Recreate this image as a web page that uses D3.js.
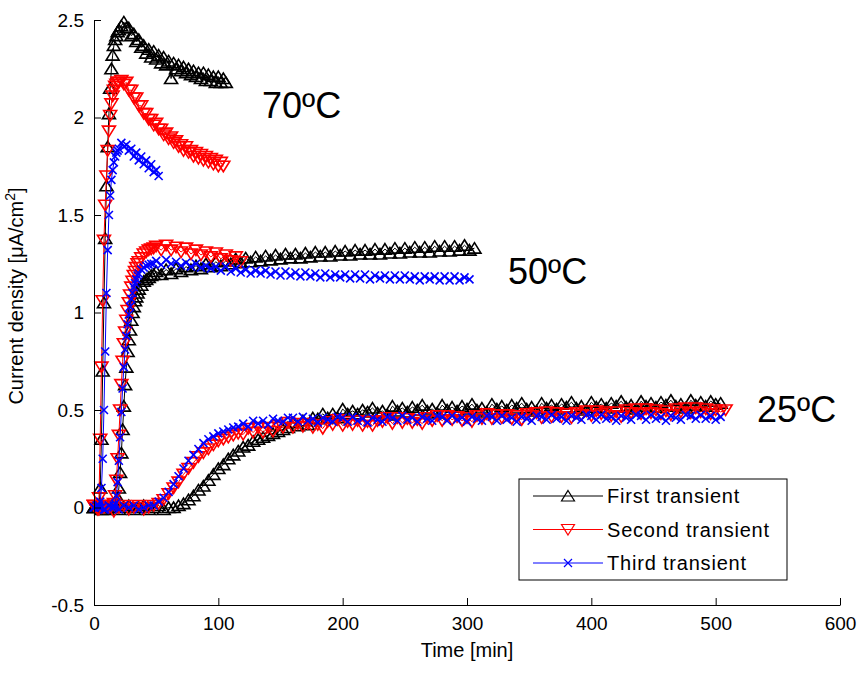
<!DOCTYPE html>
<html>
<head>
<meta charset="utf-8">
<script src="https://cdnjs.cloudflare.com/ajax/libs/d3/7.8.5/d3.min.js"></script>
<style>
  html, body { margin: 0; padding: 0; background: #fff; }
  svg { display: block; font-family: "Liberation Sans", Arial, sans-serif; }
</style>
</head>
<body>
<div id="chart"></div>
<script>

// tick labels
var xTicks = [0, 100, 200, 300, 400, 500, 600];
var yTicks = [-0.5, 0, 0.5, 1, 1.5, 2, 2.5];

var transients = ['First transient', 'Second transient', 'Third transient'];
var temperatures = ['70ºC', '50ºC', '25ºC'];

// 70 C, time in min
var time70 = [0, 2, 4, 5, 6, 7, 8, 9, 10, 11, 12, 13, 14, 15, 16, 17, 18, 19, 20,
  22, 24, 26, 28, 30, 32, 34, 36, 38, 40, 42, 44, 46, 48, 50, 52, 54, 56, 58, 60,
  62, 64, 66, 68, 70, 72, 74, 76, 78, 80, 82, 84, 86, 88, 90, 92, 94, 96, 98, 100,
  102, 104, 106];
var first70 = [0.00, 0.01, 0.01, 0.10, 0.35, 0.70, 1.05, 1.38, 1.65, 1.85, 2.02, 2.15, 2.25, 2.32, 2.37, 2.40, 2.42, 2.44, 2.45,
  2.47, 2.49, 2.46, 2.46, 2.42, 2.43, 2.39, 2.40, 2.36, 2.37,
  2.33, 2.35, 2.31, 2.34, 2.30, 2.32, 2.28, 2.31, 2.27, 2.29,
  2.20, 2.28, 2.25, 2.27, 2.24, 2.26, 2.23, 2.25, 2.22, 2.24,
  2.21, 2.23, 2.20, 2.23, 2.19, 2.22, 2.19, 2.21, 2.18, 2.21,
  2.18, 2.20, 2.18];
var second70 = [0.01, 0.00, 0.05, 0.35, 0.72, 1.06, 1.37, 1.55, 1.70, 1.83, 1.93, 2.01, 2.07, 2.11, 2.14, 2.16, 2.17, 2.18, 2.18,
  2.19, 2.17, 2.18, 2.14, 2.14, 2.10, 2.10, 2.06, 2.06, 2.02,
  2.02, 1.99, 1.99, 1.96, 1.97, 1.94, 1.94, 1.91, 1.92, 1.89,
  1.90, 1.87, 1.88, 1.85, 1.86, 1.83, 1.85, 1.82, 1.83, 1.80,
  1.82, 1.79, 1.81, 1.78, 1.80, 1.77, 1.79, 1.76, 1.78, 1.75,
  1.77, 1.75];
var third70 = [0.00, 0.01, 0.00, 0.03, 0.10, 0.25, 0.50, 0.80, 1.10, 1.32, 1.50, 1.60, 1.68, 1.73, 1.77, 1.80, 1.82, 1.83, 1.84,
  1.87, 1.85, 1.86, 1.83, 1.84, 1.80, 1.82, 1.78, 1.80, 1.76,
  1.78, 1.74, 1.76, 1.72, 1.73, 1.70];

// 50 C
var time50 = [0, 3, 6, 9, 12, 14, 16, 17, 18, 19, 20, 21, 22, 23, 24, 25, 26, 27, 28, 29, 30,
  31, 32, 33, 34, 35, 36, 38, 40, 42, 44, 46, 48,
  50, 54, 58, 62, 66, 70, 74, 78, 82, 86, 90, 94, 98, 102, 106, 110, 114, 118, 122, 126,
  130, 134, 138, 142, 146, 150, 154, 158, 162, 166, 170, 174, 178, 182, 186, 190, 194, 198,
  202, 206, 210, 214, 218, 222, 226, 230, 234, 238, 242, 246, 250, 254, 258, 262, 266, 270,
  274, 278, 282, 286, 290, 294, 298, 302, 306];
var first50 = [0.00, 0.01, -0.01, 0.00, 0.01, 0.00, 0.01, 0.01, 0.02, 0.05, 0.10, 0.18, 0.28, 0.40, 0.52, 0.63, 0.72,
  0.80, 0.86, 0.91, 0.96, 1.00, 1.03, 1.06, 1.08, 1.10, 1.12, 1.14, 1.16, 1.17, 1.18, 1.19, 1.195,
  1.21, 1.195, 1.22, 1.20, 1.225, 1.21, 1.235, 1.22, 1.24, 1.225,
  1.25, 1.235, 1.26, 1.24, 1.265, 1.25, 1.275, 1.255, 1.28, 1.26,
  1.285, 1.265, 1.29, 1.27, 1.295, 1.275, 1.30, 1.28, 1.30, 1.28,
  1.305, 1.285, 1.31, 1.29, 1.31, 1.29, 1.315, 1.295, 1.315, 1.295,
  1.32, 1.30, 1.32, 1.30, 1.325, 1.30, 1.325, 1.305, 1.33, 1.305,
  1.33, 1.31, 1.335, 1.31, 1.335, 1.31, 1.34, 1.315, 1.34, 1.315,
  1.34, 1.32, 1.345, 1.32, 1.33];
var second50 = [0.01, -0.01, 0.00, 0.01, 0.00, 0.01, 0.02, 0.06, 0.14, 0.25, 0.37, 0.50, 0.63, 0.75, 0.84, 0.90, 0.96,
  1.01, 1.05, 1.09, 1.13, 1.16, 1.19, 1.21, 1.23, 1.25, 1.26, 1.28, 1.30, 1.31, 1.32, 1.325, 1.33,
  1.34, 1.32, 1.345, 1.32, 1.335, 1.31, 1.33, 1.30, 1.32, 1.295,
  1.31, 1.285, 1.305, 1.275, 1.295, 1.265, 1.285, 1.26];
var third50 = [0.00, 0.01, 0.00, -0.01, 0.01, 0.00, 0.01, 0.02, 0.06, 0.13, 0.24, 0.36, 0.49, 0.61, 0.72, 0.81, 0.88,
  0.94, 0.99, 1.03, 1.07, 1.10, 1.13, 1.15, 1.17, 1.19, 1.20, 1.22, 1.23, 1.24, 1.245, 1.25, 1.25,
  1.265, 1.245, 1.27, 1.25, 1.26, 1.24, 1.255, 1.235, 1.25, 1.23,
  1.24, 1.225, 1.235, 1.215, 1.235, 1.21, 1.225, 1.205, 1.22, 1.20,
  1.215, 1.20, 1.215, 1.195, 1.21, 1.19, 1.21, 1.19, 1.205, 1.185,
  1.205, 1.185, 1.20, 1.18, 1.20, 1.18, 1.195, 1.18, 1.195, 1.175,
  1.195, 1.175, 1.195, 1.17, 1.19, 1.175, 1.19, 1.17, 1.19, 1.17,
  1.19, 1.17, 1.185, 1.165, 1.185, 1.17, 1.185, 1.165, 1.185, 1.165,
  1.185, 1.165, 1.18, 1.17];

// 25 C
var time25 = [0, 4, 8, 12, 16, 20, 24, 28, 32, 36, 40, 44, 48, 52, 56, 60, 64, 68, 72, 76,
  80, 84, 88, 92, 96, 100, 104, 108, 112, 116, 120, 124, 128, 132, 136, 140, 144, 148, 152, 156,
  160, 164, 168, 172, 176, 180, 184, 188, 192, 196, 200, 204, 208, 212, 216, 220, 224, 228, 232, 236,
  240, 244, 248, 252, 256, 260, 264, 268, 272, 276, 280, 284, 288, 292, 296, 300, 304, 308, 312, 316,
  320, 324, 328, 332, 336, 340, 344, 348, 352, 356, 360, 364, 368, 372, 376, 380, 384, 388, 392, 396,
  400, 404, 408, 412, 416, 420, 424, 428, 432, 436, 440, 444, 448, 452, 456, 460, 464, 468, 472, 476,
  480, 484, 488, 492, 496, 500, 504, 508];
var first25 = [0.00, 0.01, -0.01, 0.00, 0.01, -0.01, 0.00, 0.01, -0.01, 0.00,
  0.01, -0.01, 0.00, 0.01, -0.01, 0.00, 0.00, 0.01, 0.02, 0.04,
  0.06, 0.09, 0.11, 0.14, 0.17, 0.20, 0.22, 0.25, 0.27, 0.29,
  0.31, 0.32, 0.34, 0.35, 0.36, 0.37, 0.38, 0.39, 0.40, 0.41,
  0.435, 0.42, 0.445, 0.425, 0.46, 0.455, 0.48, 0.46, 0.48, 0.46,
  0.505, 0.48, 0.495, 0.48, 0.50, 0.49, 0.51, 0.485, 0.495, 0.475,
  0.52, 0.495, 0.51, 0.49, 0.515, 0.50, 0.525, 0.495, 0.505, 0.485,
  0.525, 0.50, 0.515, 0.495, 0.52, 0.505, 0.53, 0.50, 0.51, 0.49,
  0.53, 0.505, 0.52, 0.50, 0.525, 0.51, 0.535, 0.505, 0.515, 0.495,
  0.535, 0.51, 0.525, 0.505, 0.53, 0.515, 0.54, 0.51, 0.52, 0.50,
  0.54, 0.515, 0.53, 0.51, 0.535, 0.52, 0.545, 0.515, 0.525, 0.505,
  0.545, 0.52, 0.535, 0.515, 0.54, 0.525, 0.55, 0.52, 0.53, 0.51,
  0.55, 0.525, 0.54, 0.52, 0.545, 0.53, 0.535];
var second25 = [0.01, -0.01, 0.00, 0.01, -0.02, 0.00, 0.01, -0.01, 0.00, 0.01,
  -0.01, 0.00, 0.01, 0.02, 0.04, 0.07, 0.10, 0.13, 0.17, 0.20,
  0.23, 0.26, 0.28, 0.30, 0.32, 0.34, 0.35, 0.36, 0.37, 0.38,
  0.375, 0.405, 0.385, 0.41, 0.385, 0.41, 0.39, 0.42, 0.41, 0.435,
  0.41, 0.43, 0.415, 0.43, 0.41, 0.425, 0.405, 0.44, 0.425, 0.45,
  0.42, 0.44, 0.425, 0.445, 0.42, 0.44, 0.42, 0.445, 0.44, 0.46,
  0.43, 0.46, 0.435, 0.455, 0.435, 0.45, 0.43, 0.46, 0.445, 0.47,
  0.445, 0.47, 0.45, 0.465, 0.445, 0.46, 0.44, 0.47, 0.455, 0.48,
  0.455, 0.475, 0.46, 0.475, 0.455, 0.47, 0.45, 0.48, 0.47, 0.485,
  0.46, 0.49, 0.465, 0.485, 0.465, 0.48, 0.46, 0.485, 0.475, 0.495,
  0.47, 0.495, 0.48, 0.49, 0.47, 0.49, 0.465, 0.50, 0.485, 0.505,
  0.48, 0.505, 0.485, 0.50, 0.48, 0.495, 0.475, 0.505, 0.49, 0.51,
  0.485, 0.51, 0.49, 0.505, 0.48, 0.50, 0.49, 0.50];
var third25 = [0.00, 0.01, -0.01, 0.01, 0.00, -0.01, 0.01, 0.00, 0.01, -0.01,
  0.00, 0.01, 0.01, 0.03, 0.05, 0.08, 0.12, 0.16, 0.20, 0.24,
  0.27, 0.30, 0.33, 0.35, 0.365, 0.38, 0.39, 0.40, 0.41, 0.415,
  0.43, 0.415, 0.445, 0.43, 0.445, 0.425, 0.455, 0.445, 0.44, 0.46,
  0.46, 0.44, 0.465, 0.445, 0.455, 0.435, 0.46, 0.45, 0.44, 0.465,
  0.46, 0.44, 0.465, 0.445, 0.455, 0.435, 0.46, 0.45, 0.44, 0.465,
  0.46, 0.445, 0.47, 0.45, 0.46, 0.44, 0.465, 0.455, 0.445, 0.47,
  0.465, 0.445, 0.47, 0.45, 0.46, 0.44, 0.465, 0.455, 0.445, 0.47,
  0.465, 0.445, 0.47, 0.45, 0.46, 0.44, 0.465, 0.455, 0.445, 0.47,
  0.465, 0.45, 0.475, 0.455, 0.465, 0.445, 0.47, 0.46, 0.45, 0.475,
  0.47, 0.45, 0.475, 0.455, 0.465, 0.445, 0.47, 0.46, 0.45, 0.475,
  0.47, 0.45, 0.475, 0.455, 0.465, 0.445, 0.47, 0.46, 0.45, 0.475,
  0.47, 0.455, 0.475, 0.455, 0.47, 0.45, 0.465];

(function () {

  var W = 861, H = 673;
  var plot = { left: 94, right: 840, top: 20, bottom: 605 };
  var colors = ['#000000', '#ff0000', '#0000ff'];
  var font = '"Liberation Sans", Arial, sans-serif';

  // marker outlines, MATLAB style ^ v x
  var markers = [
    'M0,-5.5L6.5,5L-6.5,5Z'
  , 'M0,5.5L6.5,-5L-6.5,-5Z'
  , 'M-4,-4L4,4M4,-4L-4,4'
  ];

  function pairs (t, v) {
    return v.map(function (d, i) { return { t: t[i], v: d }; });
  }

  // plotted transient by transient, like the legend
  var groups = [
    [pairs(time70, first70), pairs(time50, first50), pairs(time25, first25)]
  , [pairs(time70, second70), pairs(time50, second50), pairs(time25, second25)]
  , [pairs(time70, third70), pairs(time50, third50), pairs(time25, third25)]
  ];

  var svg = d3.select('#chart').append('svg')
    .attr('width', W)
    .attr('height', H);

  var x = d3.scaleLinear().domain([0, 600]).range([plot.left, plot.right]);
  var y = d3.scaleLinear().domain([-0.5, 2.5]).range([plot.bottom, plot.top]);

  var line = d3.line()
    .x(function (d) { return x(d.t); })
    .y(function (d) { return y(d.v); });

  var data = svg.append('g').attr('class', 'data');

  groups.forEach(function (series, k) {
    series.forEach(function (pts) {
      var g = data.append('g');
      g.append('path')
        .attr('d', line(pts))
        .attr('fill', 'none')
        .attr('stroke', colors[k])
        .attr('stroke-width', 1);
      g.selectAll('path.mk').data(pts).enter().append('path')
        .attr('class', 'mk')
        .attr('d', markers[k])
        .attr('transform', function (d) { return 'translate(' + x(d.t) + ',' + y(d.v) + ')'; })
        .attr('fill', 'none')
        .attr('stroke', colors[k])
        .attr('stroke-width', 1.6);
    });
  });

  // axes, ticks point inward
  var xAxis = svg.append('g')
    .attr('transform', 'translate(0,' + plot.bottom + ')')
    .call(d3.axisBottom(x).tickValues(xTicks).tickSizeInner(-7).tickSizeOuter(0).tickPadding(12)
      .tickFormat(function (d) { return String(d); }));
  var yAxis = svg.append('g')
    .attr('transform', 'translate(' + plot.left + ',0)')
    .call(d3.axisLeft(y).tickValues(yTicks).tickSizeInner(-7).tickSizeOuter(0).tickPadding(10)
      .tickFormat(function (d) { return String(d); }));

  [xAxis, yAxis].forEach(function (a) {
    a.attr('font-size', 19).attr('font-family', font);
    a.selectAll('path, line').attr('stroke', '#000').attr('stroke-width', 1);
    a.selectAll('text').attr('fill', '#000');
  });

  svg.append('text')
    .attr('x', (plot.left + plot.right) / 2)
    .attr('y', 657)
    .attr('text-anchor', 'middle')
    .attr('font-size', 20)
    .text('Time [min]');

  var yl = svg.append('text')
    .attr('transform', 'translate(23,' + 296 + ') rotate(-90)')
    .attr('text-anchor', 'middle')
    .attr('font-size', 20);
  yl.append('tspan').text('Current density [μA/cm');
  yl.append('tspan').attr('font-size', 14).attr('dy', -8).text('2');
  yl.append('tspan').attr('dy', 8).text(']');

  // temperature labels
  var tempPos = [[262, 118], [508, 284], [757, 422]];
  svg.selectAll('text.temp').data(temperatures).enter().append('text')
    .attr('class', 'temp')
    .attr('x', function (d, i) { return tempPos[i][0]; })
    .attr('y', function (d, i) { return tempPos[i][1]; })
    .attr('font-size', 36)
    .text(function (d) { return d; });

  // legend
  var legend = svg.append('g').attr('transform', 'translate(519,479)');
  legend.append('rect')
    .attr('width', 268).attr('height', 101)
    .attr('fill', '#fff').attr('stroke', '#000').attr('stroke-width', 1);
  transients.forEach(function (name, k) {
    var ly = 17 + k * 33.5;
    legend.append('line')
      .attr('x1', 14).attr('x2', 84).attr('y1', ly).attr('y2', ly)
      .attr('stroke', colors[k]).attr('stroke-width', 1);
    legend.append('path')
      .attr('d', markers[k])
      .attr('transform', 'translate(49,' + ly + ')')
      .attr('fill', 'none').attr('stroke', colors[k]).attr('stroke-width', 1.2);
    legend.append('text')
      .attr('x', 88).attr('y', ly + 7)
      .attr('font-size', 20)
      .attr('letter-spacing', 0.8)
      .text(name);
  });

})();
</script>
</body>
</html>
